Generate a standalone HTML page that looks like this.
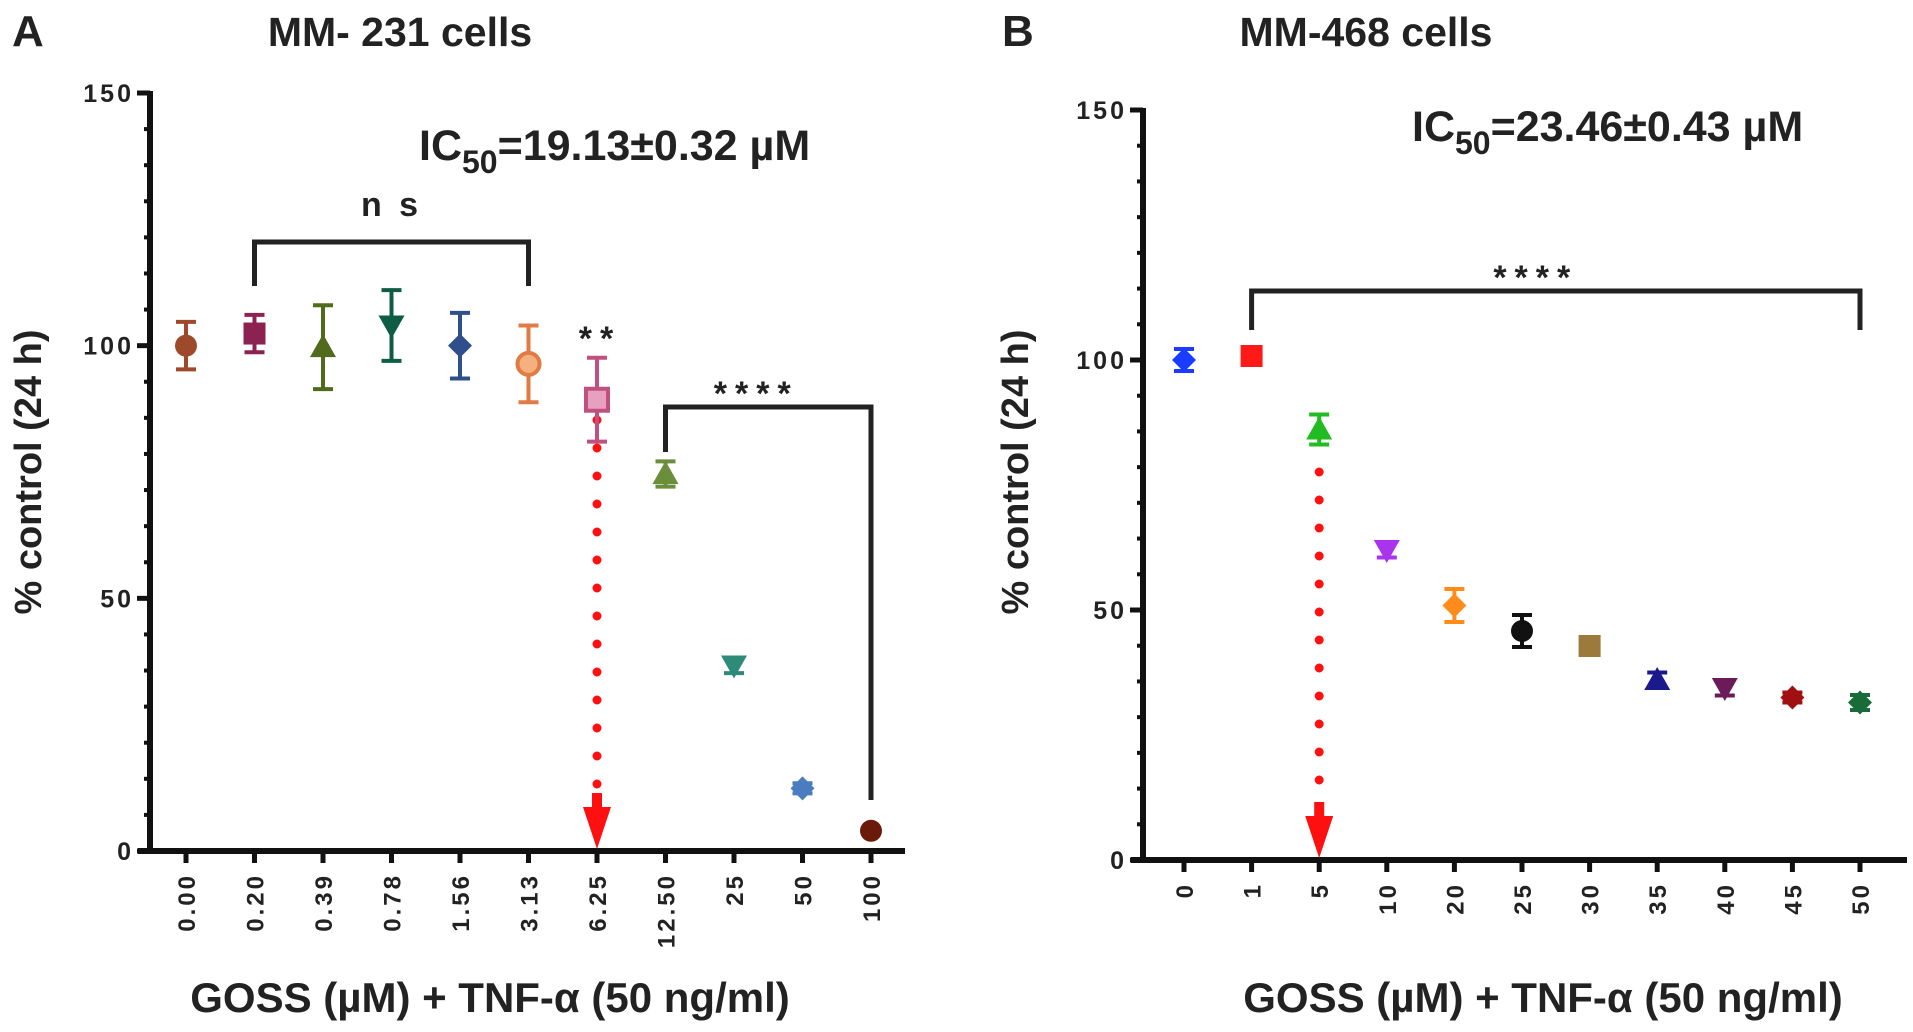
<!DOCTYPE html>
<html><head><meta charset="utf-8"><style>
html,body{margin:0;padding:0;background:#fff;}
svg{display:block;font-family:"Liberation Sans",Arial,sans-serif;}
</style></head>
<body>
<svg id="fig" width="1913" height="1032" viewBox="0 0 1913 1032" xmlns="http://www.w3.org/2000/svg"></svg>
<script>
// Panel A data
const catsA = ["0.00","0.20","0.39","0.78","1.56","3.13","6.25","12.50","25","50","100"];
const valsA = [100,102.4,99.7,104,100,96.4,89.3,74.6,36.7,12.4,4];
const errsA = [4.7,3.7,8.3,7,6.5,7.6,8.3,2.5,1.5,1,0.5];
const colorsA = ["#9e4a2a","#8b2252","#4f6b1b","#0f5c45","#2e4f8c","#e07b45","#c05080","#6b8e3a","#2e8b7a","#4a7cc0","#6b1a0a"];
const shapesA = ["circle","square","tri","tridown","diamond","ocircle","osquare","tri","tridown","diamond","circle"];
// Panel B data
const catsB = ["0","1","5","10","20","25","30","35","40","45","50"];
const valsB = [100,100.8,86.1,62,50.9,45.8,42.8,36,34.4,32.5,31.5];
const errsB = [2.2,1,3,1.5,3.3,3.2,1.5,1.5,1.5,1,1.5];
const colorsB = ["#1a3cff","#ff1a1a","#22bb22","#aa33ee","#ff8c1a","#111111","#9c7a3c","#1a1a8c","#6b1a5a","#a01010","#1a6b3a"];
const shapesB = ["diamond","square","tri","tridown","diamond","circle","square","tri","tridown","diamond","diamond"];
const yTicks = [0,50,100,150];

const NS="http://www.w3.org/2000/svg";
const svg=document.getElementById('fig');
function mk(tag,attrs,parent){const e=document.createElementNS(NS,tag);for(const k in attrs)e.setAttribute(k,attrs[k]);(parent||svg).appendChild(e);return e;}

function panel(cfg){
  const g=mk('g',{});
  
  
  const yS=v=>cfg.y0-(cfg.y0-cfg.y150)*v/150;
  const xS=i=>cfg.x0+i*cfg.dx;
  const ya=mk('line',{x1:cfg.ax,y1:cfg.y150-2,x2:cfg.ax,y2:cfg.y0+3,stroke:'#111','stroke-width':6},g);
  
  
  const xa=mk('line',{x1:cfg.ax-12,y1:cfg.y0,x2:cfg.axEnd,y2:cfg.y0,stroke:'#111','stroke-width':6},g);
  
  
  for(let k=0;k<=21;k++){
    const v=k*50/7; const y=yS(v);
    mk('line',{x1:cfg.ax-6,y1:y,x2:cfg.ax,y2:y,stroke:'#111','stroke-width':4},g);
  }
  yTicks.forEach(v=>{
    const y=yS(v);
    mk('line',{x1:cfg.ax-13,y1:y,x2:cfg.ax,y2:y,stroke:'#111','stroke-width':5},g);
    const t=mk('text',{x:cfg.ax-16,y:y+9,'text-anchor':'end','font-size':25,'font-weight':'bold','letter-spacing':3,fill:'#222'},g);
    t.textContent=v;
    
    
  });
  cfg.cats.forEach((c,i)=>{
    const x=xS(i);
    mk('line',{x1:x,y1:cfg.y0,x2:x,y2:cfg.y0+12,stroke:'#111','stroke-width':5},g);
    const t=mk('text',{x:0,y:0,'text-anchor':'end','font-size':24,'font-weight':'bold','letter-spacing':3,fill:'#222',transform:`translate(${x+9},${cfg.y0+22}) rotate(-90)`},g);
    t.textContent=c;
    
    
  });
  const ax=xS(cfg.arrowIdx);
  for(let y=cfg.arrowTop;y<cfg.y0-50;y+=28){
    mk('circle',{cx:ax,cy:y,r:4.5,fill:'#ff1010'},g);
  }
  const ar=mk('polygon',{points:`${ax-14},${cfg.y0-44} ${ax+14},${cfg.y0-44} ${ax},${cfg.y0-2}`,fill:'#ff1010'},g);
  
  
  mk('rect',{x:ax-5,y:cfg.y0-58,width:10,height:16,fill:'#ff1010'},g);
  cfg.vals.forEach((v,i)=>{
    const x=xS(i), y=yS(v), col=cfg.colors[i], e=cfg.errs[i];
    const pg=mk('g',{},g);
    
    
    const yt=yS(v+e), yb=yS(v-e);
    mk('line',{x1:x,y1:yt,x2:x,y2:yb,stroke:col,'stroke-width':4},pg);
    mk('line',{x1:x-10,y1:yt,x2:x+10,y2:yt,stroke:col,'stroke-width':4},pg);
    mk('line',{x1:x-10,y1:yb,x2:x+10,y2:yb,stroke:col,'stroke-width':4},pg);
    const s=11, sh=cfg.shapes[i];
    if(sh==='circle') mk('circle',{cx:x,cy:y,r:s,fill:col},pg);
    else if(sh==='ocircle') mk('circle',{cx:x,cy:y,r:s,fill:'#f5b080',stroke:col,'stroke-width':4},pg);
    else if(sh==='square') mk('rect',{x:x-s,y:y-s,width:2*s,height:2*s,fill:col},pg);
    else if(sh==='osquare') mk('rect',{x:x-s,y:y-s,width:2*s,height:2*s,fill:'#e8a0c0',stroke:col,'stroke-width':4},pg);
    else if(sh==='tri') mk('polygon',{points:`${x-13},${y+10} ${x+13},${y+10} ${x},${y-13}`,fill:col},pg);
    else if(sh==='tridown') mk('polygon',{points:`${x-13},${y-10} ${x+13},${y-10} ${x},${y+13}`,fill:col},pg);
    else mk('polygon',{points:`${x-12},${y} ${x},${y-12} ${x+12},${y} ${x},${y+12}`,fill:col},pg);
  });
  cfg.brackets.forEach(b=>{
    const x1=xS(b.i1), x2=xS(b.i2);
    const p=mk('path',{d:`M${x1},${b.l1} V${b.top} H${x2} V${b.l2}`,fill:'none',stroke:'#222','stroke-width':5},g);
    
    
    const t=mk('text',{x:(x1+x2)/2+(b.dxText||0),y:b.top-b.ty,'text-anchor':'middle','font-size':b.fs||30,'font-weight':'bold','letter-spacing':b.ls||8,fill:'#222'},g);
    t.textContent=b.label;
    
    
  });
  return g;
}

panel({name:'panel-a-chart',ax:150,axEnd:905,y0:851,y150:93,x0:186,dx:68.5,cats:catsA,vals:valsA,errs:errsA,colors:colorsA,shapes:shapesA,arrowIdx:6,arrowTop:420,
  brackets:[{i1:1,i2:5,top:242,l1:286,l2:286,label:'n s',ty:26,fs:34,ls:4},{i1:7,i2:10,top:407,l1:452,l2:800,label:'****',ty:2,fs:34,ls:8,dxText:-12}]});
panel({name:'panel-b-chart',ax:1143,axEnd:1907,y0:860,y150:110,x0:1184,dx:67.6,cats:catsB,vals:valsB,errs:errsB,colors:colorsB,shapes:shapesB,arrowIdx:2,arrowTop:472,
  brackets:[{i1:1,i2:10,top:291,l1:330,l2:330,label:'****',ty:2,fs:34,ls:8,dxText:-20}]});

const s2=mk('text',{x:600,y:350,'text-anchor':'middle','font-size':34,'font-weight':'bold','letter-spacing':8,fill:'#222'});
s2.textContent='**';



function txt(str,attrs,name){const t=mk('text',attrs);t.textContent=str;return t;}
txt('A',{x:12,y:46,'font-size':44,'font-weight':'bold',fill:'#222'},'panel-a-letter');
txt('MM- 231 cells',{x:400,y:46,'text-anchor':'middle','font-size':41,'font-weight':'bold',fill:'#222'},'panel-a-title');
txt('B',{x:1002,y:46,'font-size':44,'font-weight':'bold',fill:'#222'},'panel-b-letter');
txt('MM-468 cells',{x:1366,y:46,'text-anchor':'middle','font-size':41,'font-weight':'bold',fill:'#222'},'panel-b-title');
txt('% control (24 h)',{x:0,y:0,'text-anchor':'middle','font-size':38,'font-weight':'bold',fill:'#222',transform:'translate(41,472) rotate(-90)'},'panel-a-y-axis-title');
txt('% control (24 h)',{x:0,y:0,'text-anchor':'middle','font-size':38,'font-weight':'bold',fill:'#222',transform:'translate(1028,472) rotate(-90)'},'panel-b-y-axis-title');
txt('GOSS (µM) + TNF-α (50 ng/ml)',{x:490,y:1012,'text-anchor':'middle','font-size':42,'font-weight':'bold',fill:'#222'},'panel-a-x-axis-title');
txt('GOSS (µM) + TNF-α (50 ng/ml)',{x:1543,y:1012,'text-anchor':'middle','font-size':42,'font-weight':'bold',fill:'#222'},'panel-b-x-axis-title');
const ic1=mk('text',{x:419,y:160,'font-size':43,'font-weight':'bold',fill:'#222'});
ic1.innerHTML='IC<tspan font-size="32" dy="13">50</tspan><tspan dy="-13">=19.13±0.32 µM</tspan>';


const ic2=mk('text',{x:1412,y:141,'font-size':43,'font-weight':'bold',fill:'#222'});
ic2.innerHTML='IC<tspan font-size="32" dy="13">50</tspan><tspan dy="-13">=23.46±0.43 µM</tspan>';


</script>
</body></html>
